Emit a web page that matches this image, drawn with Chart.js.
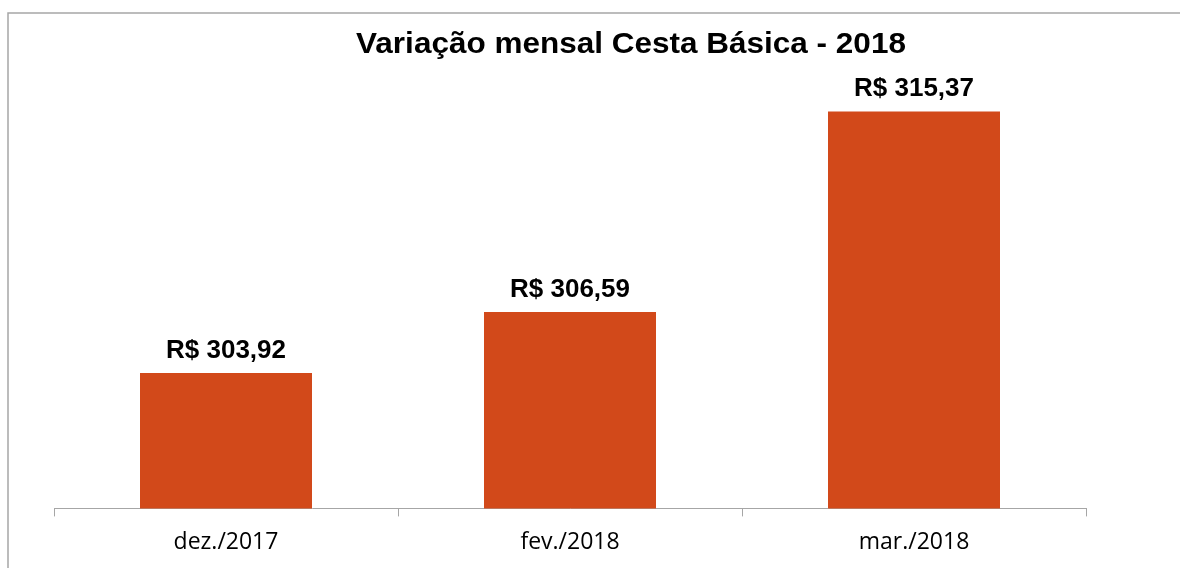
<!DOCTYPE html>
<html lang="pt-BR">
<head>
<meta charset="utf-8">
<title>Variação mensal Cesta Básica - 2018</title>
<script src="https://cdn.jsdelivr.net/npm/chart.js@4.4.1/dist/chart.umd.min.js"></script>
<style>
  html, body { margin: 0; padding: 0; background: #ffffff; }
</style>
</head>
<body>
<canvas id="GraficoCesta" width="1180" height="568"></canvas>
<script>
const meses = ['dez./2017', 'fev./2018', 'mar./2018'];
const valoresCesta = [303.92, 306.59, 315.37];
const tituloGrafico = 'Variação mensal Cesta Básica - 2018';

const corBarra = '#D2491A';
const corEixo = '#A6A6A6';

function formataReal(v) {
  return 'R$ ' + v.toFixed(2).replace('.', ',');
}

// moldura, titulo e rotulos de dados desenhados por cima
const extras = {
  id: 'extras',
  afterDraw(chart) {
    const ctx = chart.ctx;
    ctx.save();

    ctx.strokeStyle = corEixo;
    ctx.lineWidth = 1.5;
    ctx.strokeRect(8, 13, 1300, 700);

    ctx.fillStyle = '#000000';
    ctx.textAlign = 'center';
    ctx.textBaseline = 'alphabetic';

    ctx.save();
    ctx.translate(631, 53);
    ctx.scale(1.05, 1);
    ctx.font = 'bold 30px "Liberation Sans", Arial, sans-serif';
    ctx.fillText(tituloGrafico, 0, 0);
    ctx.restore();

    const meta = chart.getDatasetMeta(0);
    meta.data.forEach((bar, i) => {
      ctx.save();
      ctx.translate(bar.x, bar.y - 15);
      ctx.scale(1.04, 1);
      ctx.font = 'bold 25px "Liberation Sans", Arial, sans-serif';
      ctx.fillText(formataReal(valoresCesta[i]), 0, 0);
      ctx.restore();
    });

    ctx.restore();
  }
};

new Chart(document.getElementById('GraficoCesta'), {

  type: 'bar',
  data: {

    labels: meses,
    datasets: [

      {
        label: 'Cesta Básica',
        data: valoresCesta,
        backgroundColor: corBarra,
        borderWidth: 0,
        barPercentage: 1,
        categoryPercentage: 0.5,
      }

    ],

  },
  options: {

    responsive: false,
    animation: false,
    devicePixelRatio: 1,
    layout: {
      padding: { left: 54, right: 94, top: 97, bottom: 0 },
    },
    scales: {

      y: {
        display: false,
        min: 298,
        max: 316,
      },
      x: {
        border: { color: corEixo, width: 1 },
        grid: {
          drawOnChartArea: false,
          drawTicks: true,
          tickLength: 8,
          color: corEixo,
        },
        ticks: {
          color: '#000000',
          padding: 12,
          font: { family: '"Open Sans", "Noto Sans", sans-serif', size: 23 },
        },
      },

    },
    plugins: {
      legend: { display: false },
      title: { display: false },
      tooltip: { enabled: false },
    },

  },
  plugins: [extras],

});
</script>
</body>
</html>
